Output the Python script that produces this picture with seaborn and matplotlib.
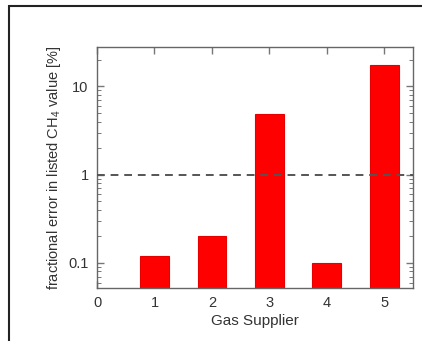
import matplotlib
matplotlib.use("Agg")
import matplotlib.pyplot as plt
import seaborn as sns
import pandas as pd
from matplotlib.patches import Rectangle
from matplotlib.ticker import LogLocator, FixedLocator

suppliers = [1, 2, 3, 4, 5]
errors = [0.12, 0.20, 4.9, 0.10, 17.5]
xticks = [0, 1, 2, 3, 4, 5]
yticks = [0.1, 1, 10]
ytick_labels = ["0.1", "1", "10"]

sns.set_style("ticks")
plt.rcParams['font.family'] = ['Liberation Sans', 'DejaVu Sans']
plt.rcParams['mathtext.fontset'] = 'custom'
plt.rcParams['mathtext.rm'] = 'Liberation Sans'
plt.rcParams['mathtext.it'] = 'Liberation Sans'

fig = plt.figure(figsize=(4.22, 3.41), dpi=100)
ax = fig.add_axes([97/422, 1-288/341, (413-97)/422, (288-47)/341])
ax.set_yscale('log')

df = pd.DataFrame({"supplier": suppliers, "err": errors})
sns.barplot(data=df, x="supplier", y="err", native_scale=True, width=0.5,
            color="#ff0000", saturation=1, edgecolor="#e80000", linewidth=0.8, ax=ax)

ax.axhline(1, color="#555555", linestyle=(0, (4, 3)), linewidth=1.4, zorder=3)

ax.set_xlim(0, 5.5)
ax.set_ylim(0.052, 28)
ax.xaxis.set_major_locator(FixedLocator(xticks))
ax.set_xticklabels([str(t) for t in xticks])
ax.set_yticks(yticks)
ax.set_yticklabels(ytick_labels)
ax.yaxis.set_minor_locator(LogLocator(base=10, subs=range(2, 10)))
ax.tick_params(which='both', direction='in', top=True, right=True, colors="#777777",
               labelcolor="#333333", labelsize=10.5)
ax.tick_params(which='major', length=5, width=1)
ax.tick_params(which='minor', length=3, width=0.7)
ax.tick_params(axis='x', pad=6)
ax.tick_params(axis='y', pad=6)
for s in ax.spines.values():
    s.set_color("#666666")
    s.set_linewidth(1)

ax.set_xlabel("Gas Supplier", fontsize=11, color="#333333", labelpad=3)
ax.set_ylabel(r"fractional error in listed CH$_4$ value [%]", fontsize=10.5, color="#333333", labelpad=4)

# outer frame
fig.patches.append(Rectangle((9/422, -0.1), 1.2, 1 - 6/341 + 0.1, transform=fig.transFigure,
                             fill=False, edgecolor="#222222", linewidth=1.5))

fig.savefig("out.png", dpi=100)
